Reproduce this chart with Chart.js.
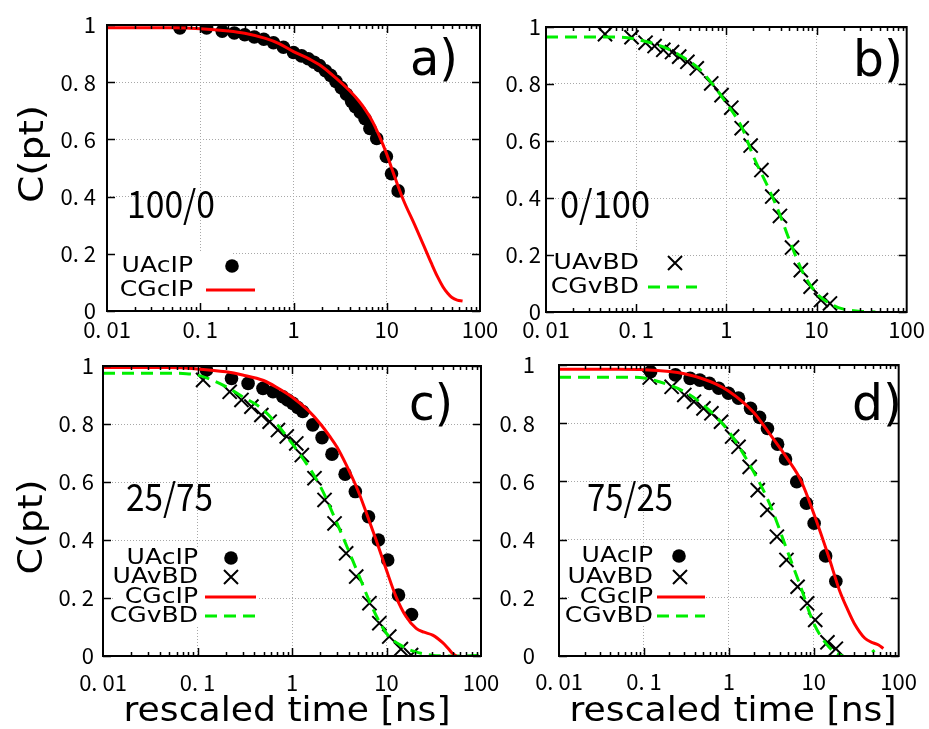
<!DOCTYPE html>
<html>
<head>
<meta charset="utf-8">
<script src="https://cdn.jsdelivr.net/npm/chart.js@4.4.1/dist/chart.umd.min.js"></script>
<style>
  html, body { margin: 0; padding: 0; background: #fff; }
  #wrap { position: relative; width: 929px; height: 729px; }
  #wrap canvas { position: absolute; left: 0; top: 0; }
</style>
</head>
<body>
<div id="wrap">
  <canvas id="pa" width="929" height="729"></canvas>
  <canvas id="pb" width="929" height="729"></canvas>
  <canvas id="pc" width="929" height="729"></canvas>
  <canvas id="pd" width="929" height="729"></canvas>
</div>
<script>
// ---- data ----
const xTickValues = [0.01, 0.1, 1, 10, 100];
const xTickLabels = ['0. 01', '0. 1', '1', '10', '100'];
const yTickValues = [0, 0.2, 0.4, 0.6, 0.8, 1];
const yTickLabels = ['0', '0. 2', '0. 4', '0. 6', '0. 8', '1'];

// a) 100/0
const aCircleT = [0.0605, 0.117, 0.172, 0.232, 0.30, 0.38, 0.48, 0.61, 0.78, 1.0, 1.22, 1.44, 1.66, 1.9, 2.2, 2.5, 2.85, 3.25, 3.7, 4.2, 4.6, 5.2, 5.85, 6.6, 7.8, 9.9, 11.25, 13.25];
const aCircleC = [0.99, 0.99, 0.978, 0.972, 0.966, 0.958, 0.95, 0.938, 0.922, 0.904, 0.892, 0.882, 0.87, 0.858, 0.84, 0.824, 0.803, 0.781, 0.758, 0.733, 0.714, 0.695, 0.672, 0.638, 0.603, 0.54, 0.48, 0.42];
const aRedT = [0.01, 0.05, 0.1, 0.2, 0.3, 0.5, 0.7, 1, 1.5, 2, 3, 4, 5, 6, 7, 8.5, 10, 12, 15, 20, 25, 30, 35, 40, 45, 50, 57, 65];
const aRedC = [0.99, 0.99, 0.987, 0.979, 0.971, 0.953, 0.935, 0.907, 0.88, 0.856, 0.808, 0.77, 0.735, 0.7, 0.664, 0.605, 0.548, 0.475, 0.39, 0.3, 0.228, 0.168, 0.12, 0.085, 0.062, 0.047, 0.038, 0.035];

// b) 0/100
const bCrossT = [0.0451, 0.0888, 0.127, 0.16, 0.2, 0.25, 0.3, 0.37, 0.47, 0.68, 0.885, 1.135, 1.48, 1.86, 2.45, 3.23, 3.93, 5.35, 6.7, 8.6, 11.2, 14.1];
const bCrossC = [0.975, 0.964, 0.945, 0.933, 0.92, 0.912, 0.896, 0.878, 0.855, 0.802, 0.761, 0.717, 0.645, 0.584, 0.498, 0.405, 0.337, 0.226, 0.147, 0.089, 0.042, 0.03];
const bGreenT = [0.01, 0.05, 0.08, 0.1, 0.2, 0.3, 0.5, 0.7, 1, 1.5, 2, 3, 4, 5, 7, 10, 15, 20, 30, 45];
const bGreenC = [0.965, 0.965, 0.962, 0.957, 0.93, 0.902, 0.853, 0.8, 0.733, 0.645, 0.545, 0.428, 0.335, 0.253, 0.141, 0.066, 0.025, 0.01, 0.003, 0.0];

// c) 25/75
const cCircleT = [0.1245, 0.229, 0.343, 0.493, 0.629, 0.80, 0.9, 1.02, 1.15, 1.30, 1.66, 2.08, 2.65, 3.65, 4.68, 6.45, 8.2, 10.3, 13.4, 18.4];
const cCircleC = [0.986, 0.957, 0.94, 0.923, 0.911, 0.894, 0.883, 0.871, 0.857, 0.843, 0.797, 0.753, 0.696, 0.627, 0.567, 0.48, 0.40, 0.331, 0.21, 0.143];
const cCrossT = [0.1146, 0.219, 0.292, 0.372, 0.474, 0.58, 0.71, 0.88, 1.11, 1.27, 1.73, 2.21, 2.82, 3.74, 4.78, 6.6, 8.4, 10.7, 14.2, 18.2];
const cCrossC = [0.952, 0.911, 0.883, 0.86, 0.831, 0.808, 0.779, 0.757, 0.733, 0.693, 0.613, 0.538, 0.457, 0.354, 0.274, 0.182, 0.113, 0.067, 0.024, 0.003];
const cRedT = [0.01, 0.05, 0.1, 0.2, 0.3, 0.5, 0.7, 1, 1.5, 2, 2.5, 3, 3.74, 5, 6.1, 7.77, 9.9, 12.6, 16.1, 20.6, 25, 30.8, 39.3, 45, 50, 55];
const cRedC = [0.995, 0.995, 0.99, 0.98, 0.969, 0.95, 0.925, 0.893, 0.845, 0.8, 0.758, 0.72, 0.66, 0.57, 0.495, 0.4, 0.3, 0.205, 0.136, 0.095, 0.082, 0.072, 0.046, 0.026, 0.009, 0.0];
const cGreenT = [0.01, 0.05, 0.07, 0.1, 0.2, 0.3, 0.5, 1, 2, 3, 5, 7, 10, 15, 20, 30, 50, 70, 100];
const cGreenC = [0.975, 0.975, 0.974, 0.969, 0.929, 0.894, 0.848, 0.733, 0.584, 0.457, 0.285, 0.17, 0.078, 0.032, 0.015, 0.003, 0.0, 0.0, 0.003];

// d) 75/25
const dCircleT = [0.12, 0.235, 0.35, 0.455, 0.59, 0.76, 0.99, 1.3, 1.8, 2.3, 2.85, 3.75, 4.65, 6.3, 8.2, 10.1, 13.8, 18.2];
const dCircleC = [0.977, 0.966, 0.954, 0.948, 0.937, 0.92, 0.903, 0.886, 0.851, 0.82, 0.782, 0.728, 0.677, 0.599, 0.525, 0.456, 0.344, 0.257];
const dCrossT = [0.117, 0.212, 0.299, 0.388, 0.503, 0.624, 0.809, 1.094, 1.3, 1.76, 2.19, 2.84, 3.68, 4.77, 6.45, 8.35, 10.4, 14.5, 18.2];
const dCrossC = [0.957, 0.925, 0.897, 0.874, 0.851, 0.834, 0.805, 0.754, 0.719, 0.65, 0.57, 0.502, 0.41, 0.33, 0.238, 0.181, 0.124, 0.047, 0.025];
const dRedT = [0.01, 0.05, 0.1, 0.2, 0.3, 0.5, 0.7, 1, 1.5, 2, 3, 5, 7, 10, 15, 20, 25, 30, 40, 50, 58, 66];
const dRedC = [0.985, 0.985, 0.984, 0.978, 0.97, 0.952, 0.935, 0.91, 0.87, 0.834, 0.765, 0.674, 0.605, 0.49, 0.341, 0.227, 0.16, 0.112, 0.061, 0.045, 0.038, 0.026];
const dGreenT = [0.01, 0.07, 0.1, 0.2, 0.3, 0.5, 1, 2, 3, 5, 7, 10, 15, 20, 25, 30, 40, 45, 52];
const dGreenC = [0.958, 0.958, 0.955, 0.931, 0.908, 0.863, 0.771, 0.628, 0.525, 0.353, 0.238, 0.112, 0.032, 0.005, -0.005, -0.01, -0.006, 0.005, 0.02];

// ---- styling ----
const RED = '#ff0000';
const GREEN = '#00ee00';
const TICK_FONT = '"Noto Sans CJK JP", "Liberation Sans", sans-serif';
const Y_AXIS_W = 80;
const X_AXIS_H = 50;

function pts(T, C) {
  return T.map((t, i) => ({ x: t, y: C[i] }));
}

function circleSet(T, C) {
  return { data: pts(T, C), pointStyle: 'circle', pointRadius: 6.8, pointBackgroundColor: '#000',
           pointBorderWidth: 0, showLine: false };
}
function crossSet(T, C) {
  return { data: pts(T, C), pointStyle: 'crossRot', pointRadius: 10, pointBorderColor: '#000',
           pointBorderWidth: 2, showLine: false };
}
function redSet(T, C) {
  return { data: pts(T, C), showLine: true, borderColor: RED, borderWidth: 3, pointRadius: 0,
           cubicInterpolationMode: 'monotone' };
}
function greenSet(T, C) {
  return { data: pts(T, C), showLine: true, borderColor: GREEN, borderWidth: 3, pointRadius: 0,
           borderDash: [12, 7], cubicInterpolationMode: 'monotone' };
}

// text with an optional horizontal stretch to hit a measured width
function drawText(ctx, t) {
  ctx.save();
  ctx.font = t.font;
  ctx.fillStyle = '#000';
  ctx.textAlign = t.align || 'left';
  ctx.textBaseline = t.baseline || 'alphabetic';
  ctx.translate(t.x, t.y);
  if (t.rot) ctx.rotate(t.rot);
  const w = ctx.measureText(t.text).width;
  const sx = t.width ? t.width / w : (t.sx || 1);
  ctx.scale(sx, 1);
  ctx.fillText(t.text, 0, 0);
  ctx.restore();
}

// frame with inward ticks, legend and annotations
const panelDecor = {
  id: 'panelDecor',
  beforeDatasetsDraw(chart, args, opts) {
    const b = opts.legendBox;
    const ctx = chart.ctx;
    ctx.save();
    ctx.fillStyle = '#fff';
    ctx.fillRect(b.x, b.y, b.w, b.h);
    ctx.restore();
  },
  afterDatasetsDraw(chart, args, opts) {
    const ctx = chart.ctx;
    const a = chart.chartArea;
    const xs = chart.scales.x, ys = chart.scales.y;
    ctx.save();
    ctx.strokeStyle = '#000';
    ctx.lineWidth = 1.5;
    ctx.beginPath();
    for (let e = -2; e < 2; e++) {
      for (let k = 1; k <= 9; k++) {
        if (e === -2 && k === 1) continue;
        const px = Math.round(xs.getPixelForValue(k * Math.pow(10, e))) + 0.5;
        const len = k === 1 ? 8 : 4;
        ctx.moveTo(px, a.bottom); ctx.lineTo(px, a.bottom - len);
        ctx.moveTo(px, a.top); ctx.lineTo(px, a.top + len);
      }
    }
    yTickValues.forEach(v => {
      const py = Math.round(ys.getPixelForValue(v)) + 0.5;
      ctx.moveTo(a.left, py); ctx.lineTo(a.left + 8, py);
      ctx.moveTo(a.right, py); ctx.lineTo(a.right - 8, py);
    });
    ctx.stroke();
    ctx.lineWidth = 2;
    ctx.strokeRect(a.left, a.top, a.right - a.left, a.bottom - a.top);

    // legend
    opts.legend.forEach(en => {
      drawText(ctx, { text: en.text, x: en.tx, y: en.y, align: 'right', baseline: 'middle',
                      font: '22px "DejaVu Sans"', sx: 1.14 });
      ctx.save();
      if (en.kind === 'circle') {
        ctx.fillStyle = '#000';
        ctx.beginPath(); ctx.arc(en.sx, en.y, 6.8, 0, Math.PI * 2); ctx.fill();
      } else if (en.kind === 'cross') {
        ctx.strokeStyle = '#000'; ctx.lineWidth = 2;
        ctx.beginPath();
        ctx.moveTo(en.sx - 7, en.y - 7); ctx.lineTo(en.sx + 7, en.y + 7);
        ctx.moveTo(en.sx - 7, en.y + 7); ctx.lineTo(en.sx + 7, en.y - 7);
        ctx.stroke();
      } else {
        ctx.strokeStyle = en.color; ctx.lineWidth = 3;
        if (en.dash) ctx.setLineDash(en.dash);
        ctx.beginPath(); ctx.moveTo(en.sx, en.y); ctx.lineTo(en.sx2, en.y); ctx.stroke();
      }
      ctx.restore();
    });
    ctx.restore();
  },
  afterDraw(chart, args, opts) {
    opts.texts.forEach(t => drawText(chart.ctx, t));
  }
};

function makePanel(id, p, datasets) {
  new Chart(document.getElementById(id), {
    type: 'scatter',
    data: { datasets },
    options: {
      responsive: false,
      animation: false,
      events: [],
      layout: {
        padding: { left: p.L - Y_AXIS_W, top: p.T, right: 929 - p.R, bottom: 729 - p.B - X_AXIS_H }
      },
      plugins: {
        legend: { display: false },
        tooltip: { enabled: false },
        panelDecor: { legendBox: p.box, legend: p.legend, texts: p.texts }
      },
      scales: {
        x: {
          type: 'logarithmic', min: 0.01, max: 100,
          afterBuildTicks: s => { s.ticks = xTickValues.map(v => ({ value: v })); },
          afterFit: s => { s.height = X_AXIS_H; },
          grid: {
            drawTicks: false, lineWidth: 1,
            color: c => (c.tick && (c.tick.value <= 0.01 || c.tick.value >= 100)) ? 'rgba(0,0,0,0)' : '#a8a8a8'
          },
          border: { display: false, dash: [1, 2] },
          ticks: {
            autoSkip: false, maxRotation: 0, padding: p.xPad, color: '#000',
            font: { family: TICK_FONT, size: 22 },
            callback: v => xTickLabels[xTickValues.indexOf(v)]
          }
        },
        y: {
          min: 0, max: 1,
          afterBuildTicks: s => { s.ticks = yTickValues.map(v => ({ value: v })); },
          afterFit: s => { s.width = Y_AXIS_W; },
          grid: {
            drawTicks: false, lineWidth: 1,
            color: c => (c.tick && (c.tick.value <= 0 || c.tick.value >= 1)) ? 'rgba(0,0,0,0)' : '#a8a8a8'
          },
          border: { display: false, dash: [1, 2] },
          ticks: {
            padding: p.yPad, color: '#000',
            font: { family: TICK_FONT, size: 22 },
            callback: v => yTickLabels[yTickValues.indexOf(Math.round(v * 10) / 10)]
          }
        }
      }
    },
    plugins: [panelDecor]
  });
}

const bigFont = '50px "DejaVu Sans"';
const ratioFont = '38px "Noto Sans CJK JP"';
const titleFont = '33px "DejaVu Sans"';

makePanel('pa', {
  L: 107, T: 25, R: 480, B: 311, xPad: 5, yPad: 11,
  box: { x: 110, y: 252, w: 123, h: 58 },
  legend: [
    { text: 'UAcIP', tx: 193, y: 266, kind: 'circle', sx: 232 },
    { text: 'CGcIP', tx: 193, y: 290, kind: 'line', sx: 206, sx2: 255, color: RED }
  ],
  texts: [
    { text: 'a)', x: 410, y: 75, font: bigFont, width: 48 },
    { text: '100/0', x: 127, y: 218, font: ratioFont, width: 88 },
    { text: 'C(pt)', x: 43, y: 154, rot: -Math.PI / 2, align: 'center', font: '34px "DejaVu Sans"', width: 98 }
  ]
}, [redSet(aRedT, aRedC), circleSet(aCircleT, aCircleC)]);

makePanel('pb', {
  L: 546, T: 27, R: 917, B: 312, xPad: 4, yPad: 5,
  box: { x: 549, y: 252, w: 123, h: 59 },
  legend: [
    { text: 'UAvBD', tx: 639, y: 263, kind: 'cross', sx: 675 },
    { text: 'CGvBD', tx: 639, y: 287, kind: 'line', sx: 648, sx2: 697, color: GREEN, dash: [12, 7] }
  ],
  texts: [
    { text: 'b)', x: 853, y: 76, font: bigFont, width: 50 },
    { text: '0/100', x: 560, y: 218, font: ratioFont, width: 90 }
  ]
}, [greenSet(bGreenT, bGreenC), crossSet(bCrossT, bCrossC)]);

makePanel('pc', {
  L: 103, T: 366, R: 481, B: 656, xPad: 13, yPad: 9,
  box: { x: 113, y: 548, w: 146, h: 77 },
  legend: [
    { text: 'UAcIP', tx: 198, y: 558, kind: 'circle', sx: 231 },
    { text: 'UAvBD', tx: 198, y: 577, kind: 'cross', sx: 231 },
    { text: 'CGcIP', tx: 198, y: 597, kind: 'line', sx: 205, sx2: 256, color: RED },
    { text: 'CGvBD', tx: 198, y: 616, kind: 'line', sx: 205, sx2: 256, color: GREEN, dash: [12, 7] }
  ],
  texts: [
    { text: 'c)', x: 409, y: 420, font: bigFont, width: 44 },
    { text: '25/75', x: 126, y: 511, font: ratioFont, width: 87 },
    { text: 'C(pt)', x: 42, y: 527, rot: -Math.PI / 2, align: 'center', font: '34px "DejaVu Sans"', width: 95 },
    { text: 'rescaled time [ns]', x: 287, y: 721, align: 'center', font: titleFont, width: 327 }
  ]
}, [redSet(cRedT, cRedC), greenSet(cGreenT, cGreenC), circleSet(cCircleT, cCircleC), crossSet(cCrossT, cCrossC)]);

makePanel('pd', {
  L: 559, T: 365, R: 914, B: 656, xPad: 12, yPad: 24,
  box: { x: 570, y: 547, w: 136, h: 78 },
  legend: [
    { text: 'UAcIP', tx: 653, y: 556, kind: 'circle', sx: 679 },
    { text: 'UAvBD', tx: 653, y: 577, kind: 'cross', sx: 680 },
    { text: 'CGcIP', tx: 653, y: 597, kind: 'line', sx: 657, sx2: 705, color: RED },
    { text: 'CGvBD', tx: 653, y: 616, kind: 'line', sx: 657, sx2: 705, color: GREEN, dash: [12, 7] }
  ],
  texts: [
    { text: 'd)', x: 852, y: 420, font: bigFont, width: 50 },
    { text: '75/25', x: 587, y: 511, font: ratioFont, width: 86 },
    { text: 'rescaled time [ns]', x: 733, y: 721, align: 'center', font: titleFont, width: 327 }
  ]
}, [redSet(dRedT, dRedC), greenSet(dGreenT, dGreenC), circleSet(dCircleT, dCircleC), crossSet(dCrossT, dCrossC)]);
</script>
</body>
</html>
